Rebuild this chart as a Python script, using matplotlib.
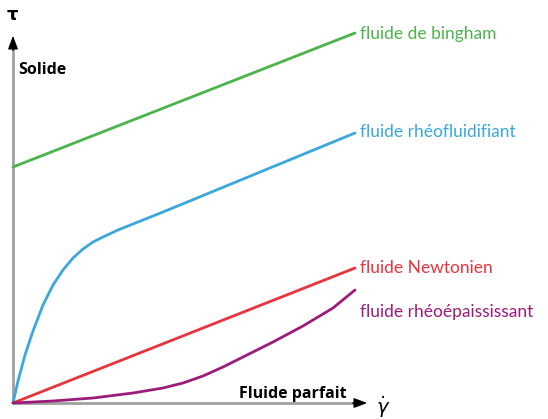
import matplotlib
matplotlib.use("Agg")
import matplotlib.pyplot as plt

# Curves (x = shear rate, y = shear stress)
bingham_x = [0, 342]
bingham_y = [236, 370]

rheofl_x = [0, 5, 12, 20, 30, 40, 50, 60, 70, 80, 90, 105, 125, 150, 342]
rheofl_y = [0, 22, 48, 72, 98, 118, 133, 145, 154, 161, 166, 173, 181, 191, 270]

newton_x = [0, 342]
newton_y = [0, 135]

rheoep_x = [0, 40, 80, 120, 150, 170, 190, 210, 230, 260, 290, 320, 342]
rheoep_y = [0, 2, 5, 10, 15, 20, 27, 36, 46, 61, 77, 95, 113]

labels = ["fluide de bingham", "fluide rhéofluidifiant", "fluide Newtonien", "fluide rhéoépaississant"]
colors = ["#4cb44c", "#3aa8dc", "#e8343c", "#9c1c7c"]
label_pos = [(347, 369), (347, 271), (347, 135), (347, 91)]

fig = plt.figure(figsize=(5.48, 4.19), dpi=100)
ax = fig.add_axes([0, 0, 1, 1])
ax.set_xlim(-13, 535)
ax.set_ylim(-16, 403)
ax.axis("off")

# axes lines
ax.plot([0, 0], [0, 362], color="#a0a0a0", lw=2, solid_capstyle="butt", zorder=1)
ax.plot([0, 345], [0, 0], color="#a0a0a0", lw=2, solid_capstyle="butt", zorder=1)
ax.annotate("", xy=(0, 370), xytext=(0, 350),
            arrowprops=dict(arrowstyle="-|>,head_length=0.8,head_width=0.3", color="black", lw=1))
ax.annotate("", xy=(357, 0), xytext=(337, 0),
            arrowprops=dict(arrowstyle="-|>,head_length=0.8,head_width=0.3", color="black", lw=1))

series = [(bingham_x, bingham_y), (rheofl_x, rheofl_y), (newton_x, newton_y), (rheoep_x, rheoep_y)]
for (xs, ys), c, lab, (lx, ly) in zip(series, colors, labels, label_pos):
    ax.plot(xs, ys, color=c, lw=2, solid_capstyle="round", solid_joinstyle="round", zorder=2)
    ax.text(lx, ly, lab, color=c, fontsize=12.5, family="Lato", va="center", ha="left")

ax.text(5, 333, "Solide", fontsize=11.5, fontweight="bold", family="Open Sans", va="center", ha="left")
ax.text(226, 9, "Fluide parfait", fontsize=11.5, fontweight="bold", family="Open Sans", va="center", ha="left")
ax.text(-1, 388, "τ", fontsize=13, fontweight="bold", family="DejaVu Sans", va="center", ha="center")
ax.text(370, -4, r"$\dot{\gamma}$", fontsize=14, va="center", ha="center")

fig.savefig("out.png", dpi=100)
